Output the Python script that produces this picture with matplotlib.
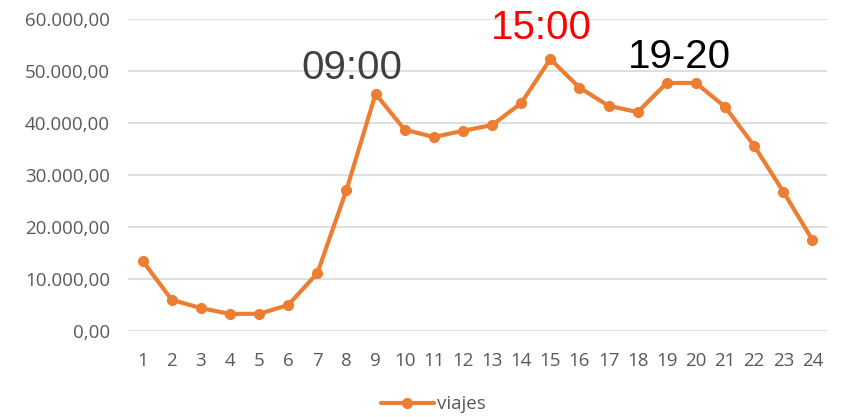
import matplotlib.pyplot as plt
from matplotlib.ticker import FuncFormatter

horas = list(range(1, 25))
viajes = [13500, 6000, 4400, 3300, 3300, 5000, 11100, 27100, 45600, 38700, 37300, 38500,
          39600, 43800, 52300, 46800, 43300, 42100, 47700, 47700, 43100, 35600, 26800, 17500]
y_ticks = [0, 10000, 20000, 30000, 40000, 50000, 60000]


def fmt_es(v, pos):
    s = f"{v:,.2f}"
    return s.replace(",", "X").replace(".", ",").replace("X", ".")


fig = plt.figure(figsize=(8.47, 4.17), dpi=100)
ax = fig.add_axes([128 / 847, 86 / 417, 699 / 847, 312 / 417])

ax.plot(horas, viajes, color='#ED7D31', linewidth=3, marker='o', markersize=7,
        solid_capstyle='round', label='viajes')

ax.set_xlim(0.5, 24.5)
ax.set_ylim(0, 60000)
ax.set_xticks(horas)
ax.set_yticks(y_ticks)
ax.yaxis.set_major_formatter(FuncFormatter(fmt_es))
ax.grid(axis='y', color='#D9D9D9', linewidth=1.2)
ax.set_axisbelow(True)
for s in ax.spines.values():
    s.set_visible(False)
ax.tick_params(length=0, labelsize=13.5, labelcolor='#595959')
ax.tick_params(axis='y', pad=13)
ax.tick_params(axis='x', pad=15)
for lab in ax.get_xticklabels() + ax.get_yticklabels():
    lab.set_fontfamily('Open Sans')

# annotations
ax.text(8.18, 50600, '09:00', ha='center', va='center', fontsize=29,
        color='#404040', family='Liberation Sans')
ax.text(14.68, 58300, '15:00', ha='center', va='center', fontsize=29,
        color='#FF0000', family='Liberation Sans')
ax.text(19.45, 52600, '19-20', ha='center', va='center', fontsize=29,
        color='#000000', family='Liberation Sans')

fig.legend(loc='center', bbox_to_anchor=(0.512, 0.03), frameon=False,
           prop={'family': 'Open Sans', 'size': 13.5}, labelcolor='#595959',
           handlelength=2.8, handletextpad=0.2)

fig.savefig('out.png', dpi=100)
